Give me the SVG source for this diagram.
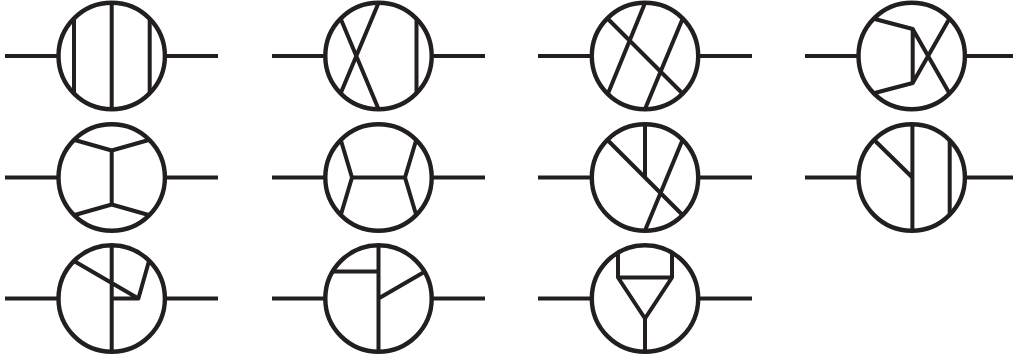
<svg xmlns="http://www.w3.org/2000/svg" width="1013" height="355" viewBox="0 0 1013 355">
<style>
.c{fill:none;stroke:#231f20;stroke-width:4.4}
.l{fill:none;stroke:#231f20;stroke-width:4;stroke-linejoin:round}
</style>
<defs><circle id="o" class="c" r="53.2"/></defs>
<rect width="1013" height="355" fill="#fff"/>
<g id="connectors" class="l">
<path d="M5 56H58M165 56H218M272 56H325M432 56H485M538 56H592M699 56H752M805 56H858M965 56H1013"/>
<path d="M5 177.5H58M165 177.5H218M272 177.5H325M432 177.5H485M538 177.5H592M699 177.5H752M805 177.5H858M965 177.5H1013"/>
<path d="M5 298.5H58M165 298.5H218M272 298.5H325M432 298.5H485M538 298.5H592M699 298.5H752"/>
</g>
<g id="n1" transform="translate(111.7 56)"><use href="#o"/><path class="l" d="M-37.7-37V37M0-53V53M38-37V37"/></g>
<g id="n2" transform="translate(378.5 56)"><use href="#o"/><path class="l" d="M-37.7-37L0 53M0-53L-37.7 37M38-37V37"/></g>
<g id="n3" transform="translate(645 56)"><use href="#o"/><path class="l" d="M-37-37L37.5 37.5M0-53L-37 37.5M37.5-37L0 53"/></g>
<g id="n4" transform="translate(911.7 56)"><use href="#o"/><path class="l" d="M-37-37L1-27V27L-37 37M1-27L37.5 37M1 27L37.5-37"/></g>
<g id="n5" transform="translate(111.7 177.5)"><use href="#o"/><path class="l" d="M-37-37.5L0-27L37-37.5M0-27V27M-37 37.5L0 27L37 37.5"/></g>
<g id="n6" transform="translate(378.5 177.5)"><use href="#o"/><path class="l" d="M-37.7-37.5L-26.5 0L-37.7 37.5M-26.5 0H26.5M37.7-37.5L26.5 0L37.7 37.5"/></g>
<g id="n7" transform="translate(645 177.5)"><use href="#o"/><path class="l" d="M-37.5-37.5L37.5 37.5M0-53V0M37.5-37.5L0 53"/></g>
<g id="n8" transform="translate(911.7 177.5)"><use href="#o"/><path class="l" d="M-37-37L0.7 0M0.7-53V53M38-37V37"/></g>
<g id="n9" transform="translate(111.7 298.5)"><use href="#o"/><path class="l" d="M0-53V53M-37.7-37.5L26.7 0H0M26.7 0L37.3-37.5"/></g>
<g id="n10" transform="translate(378.5 298.5)"><use href="#o"/><path class="l" d="M0-53V53M-45-27H0M0 0L45.7-26.5"/></g>
<g id="n11" transform="translate(645 298.5)"><use href="#o"/><path class="l" d="M-27-46V-21H27V-46M-27-21L0 20L27-21M0 20V53"/></g>
</svg>
